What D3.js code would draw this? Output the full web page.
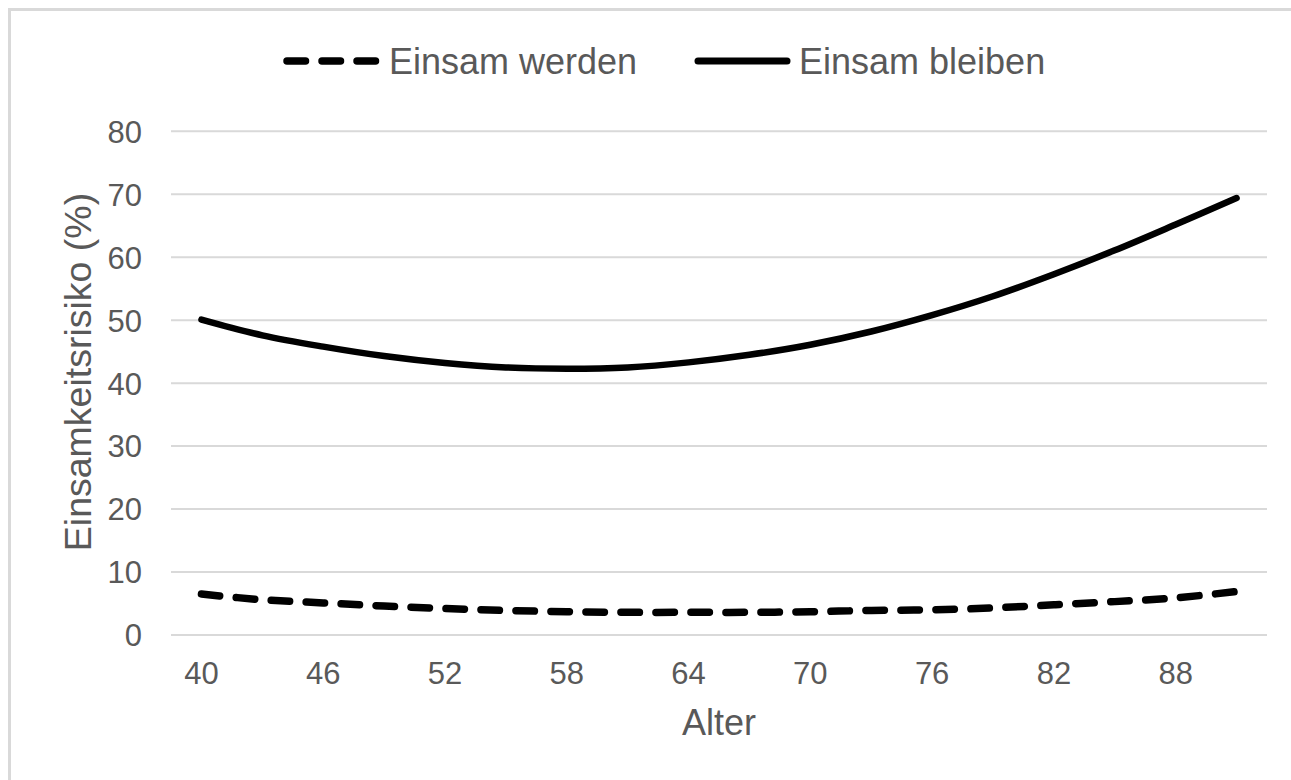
<!DOCTYPE html>
<html>
<head>
<meta charset="utf-8">
<script src="https://cdn.jsdelivr.net/npm/d3@7"></script>
<style>
  html, body { margin: 0; padding: 0; background: #ffffff; }
  svg { display: block; }
  text { font-family: "Liberation Sans", Arial, sans-serif; fill: #595959; }
</style>
</head>
<body>
<svg id="chart" width="1291" height="780"></svg>
<script>
// Alter (Jahre) – Kategorien der x-Achse
const ages = [40, 43, 46, 49, 52, 55, 58, 61, 64, 67, 70, 73, 76, 79, 82, 85, 88, 91];
// Einsamkeitsrisiko in Prozent
const einsamWerden  = [6.5, 5.6, 5.1, 4.6, 4.2, 3.9, 3.7, 3.6, 3.6, 3.6, 3.7, 3.9, 4.0, 4.3, 4.8, 5.3, 5.9, 6.9];
const einsamBleiben = [50.1, 47.6, 45.8, 44.3, 43.2, 42.5, 42.3, 42.5, 43.3, 44.5, 46.1, 48.2, 50.8, 53.8, 57.3, 61.1, 65.2, 69.4];
// Beschriftete Werte der Achsen
const yTicks = [0, 10, 20, 30, 40, 50, 60, 70, 80];
const xTickLabels = [40, 46, 52, 58, 64, 70, 76, 82, 88];
const seriesNames = ["Einsam werden", "Einsam bleiben"];

const svg = d3.select("#chart");

// Rahmen des Diagrammbereichs (oben und links sichtbar)
svg.append("path")
  .attr("d", "M9.5,780 V9.5 H1291")
  .attr("fill", "none")
  .attr("stroke", "#d9d9d9")
  .attr("stroke-width", 3);

const plot = { left: 171, right: 1267, top: 131.3, bottom: 635 };

const x = d3.scaleBand()
  .domain(ages)
  .range([plot.left, plot.right])
  .paddingInner(0)
  .paddingOuter(0);
const xc = d => x(d) + x.bandwidth() / 2;

const y = d3.scaleLinear()
  .domain([0, 80])
  .range([plot.bottom, plot.top]);

// Horizontale Gitterlinien
svg.append("g")
  .selectAll("line")
  .data(yTicks)
  .join("line")
  .attr("x1", plot.left)
  .attr("x2", plot.right)
  .attr("y1", d => y(d))
  .attr("y2", d => y(d))
  .attr("stroke", "#d9d9d9")
  .attr("stroke-width", 2);

// y-Achse: Beschriftungen rechtsbündig links vom Plotbereich
const yAxis = svg.append("g")
  .attr("transform", `translate(${plot.left},0)`)
  .call(d3.axisLeft(y).tickValues(yTicks).tickSize(0).tickPadding(29));
yAxis.select(".domain").remove();
yAxis.selectAll("text")
  .attr("text-anchor", "end")
  .attr("dy", "0.35em")
  .style("font-size", "31px")
  .style("fill", "#595959")
  .style("font-family", "'Liberation Sans', Arial, sans-serif");

// x-Achse
const xAxis = svg.append("g")
  .attr("transform", `translate(0,${plot.bottom})`)
  .call(d3.axisBottom(x)
    .tickValues(xTickLabels)
    .tickSize(0)
    .tickPadding(0));
xAxis.select(".domain").remove();
xAxis.selectAll("text")
  .attr("y", 38)
  .attr("dy", "0.35em")
  .style("font-size", "31px")
  .style("fill", "#595959")
  .style("font-family", "'Liberation Sans', Arial, sans-serif");

// Achsentitel
svg.append("text")
  .attr("x", (plot.left + plot.right) / 2)
  .attr("y", 722)
  .attr("dy", "0.35em")
  .attr("text-anchor", "middle")
  .style("font-size", "36px")
  .text("Alter");

svg.append("text")
  .attr("transform", "translate(78,372) rotate(-90)")
  .attr("dy", "0.35em")
  .attr("text-anchor", "middle")
  .style("font-size", "37.5px")
  .text("Einsamkeitsrisiko (%)");

// Linien (geglättet)
const line = d3.line()
  .x((d, i) => xc(ages[i]))
  .y(d => y(d))
  .curve(d3.curveCatmullRom.alpha(0.5));

const dash = "18.5,16.5";

svg.append("path")
  .datum(einsamWerden)
  .attr("d", line)
  .attr("fill", "none")
  .attr("stroke", "#000")
  .attr("stroke-width", 7.5)
  .attr("stroke-linecap", "round")
  .attr("stroke-dasharray", dash);

svg.append("path")
  .datum(einsamBleiben)
  .attr("d", line)
  .attr("fill", "none")
  .attr("stroke", "#000")
  .attr("stroke-width", 6.5)
  .attr("stroke-linecap", "round");

// Legende
const legend = [
  { name: seriesNames[0], x0: 287, dash: dash, width: 7.5, tx: 389 },
  { name: seriesNames[1], x0: 698, dash: null, width: 7, tx: 799 }
];
const lg = svg.append("g");
legend.forEach(l => {
  lg.append("line")
    .attr("x1", l.x0)
    .attr("x2", l.x0 + 89)
    .attr("y1", 61)
    .attr("y2", 61)
    .attr("stroke", "#000")
    .attr("stroke-width", l.width)
    .attr("stroke-linecap", "round")
    .attr("stroke-dasharray", l.dash);
  lg.append("text")
    .attr("x", l.tx)
    .attr("y", 61)
    .attr("dy", "0.35em")
    .style("font-size", "36px")
    .text(l.name);
});
</script>
</body>
</html>
